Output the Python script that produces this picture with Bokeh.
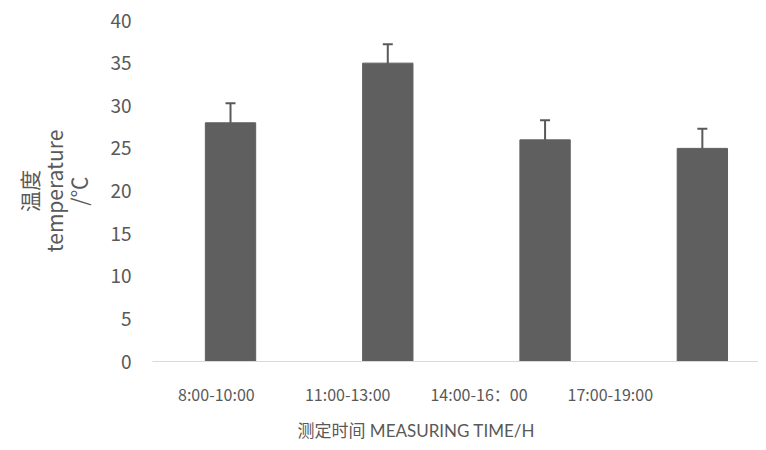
from bokeh.plotting import figure
from bokeh.models import Range1d, FixedTicker, Whisker, ColumnDataSource, TeeHead, Title
from bokeh.embed import file_html
from bokeh.resources import INLINE

# data
periods = ["8:00-10:00", "11:00-13:00", "14:00-16：00", "17:00-19:00"]
temperature = [28, 35, 26, 25]
error = [2.3, 2.2, 2.3, 2.3]
y_ticks = [0, 5, 10, 15, 20, 25, 30, 35, 40]
x_title = "测定时间 MEASURING TIME/H"
y_title = "温度\ntemperature\n/℃"

x = list(range(len(periods)))
src = ColumnDataSource(dict(
    x=x, top=temperature,
    upper=[t + e for t, e in zip(temperature, error)],
    lower=[t - e for t, e in zip(temperature, error)],
))

FONT = "Noto Sans CJK SC"
LFONT = "Lato, Noto Sans CJK SC"
ec = "#595959"

p = figure(width=758, height=450, x_range=Range1d(-0.496, 3.357), y_range=Range1d(0, 40),
           output_backend="svg", toolbar_location=None,
           min_border_left=152, min_border_right=0, min_border_top=20, min_border_bottom=88)
p.outline_line_color = None
p.xgrid.visible = False
p.ygrid.visible = False

p.vbar(x="x", top="top", width=0.32, source=src, fill_color="#5f5f5f", line_color="#5f5f5f")
p.add_layout(Whisker(base="x", upper="upper", lower="lower", source=src, line_color=ec, line_width=2,
                     upper_head=TeeHead(size=10, line_color=ec, line_width=2),
                     lower_head=TeeHead(size=10, line_color=ec, line_width=2)))

# x axis: label positions offset from bars as in the reference
label_pos = [-0.09 + 0.835 * i for i in range(len(periods))]
p.xaxis.ticker = FixedTicker(ticks=label_pos)
p.xaxis.major_label_overrides = {pos: lab for pos, lab in zip(label_pos, periods)}
p.xaxis.axis_line_color = "#d9d9d9"
p.xaxis.axis_line_width = 1
p.xaxis.major_tick_line_color = None
p.xaxis.minor_tick_line_color = None
p.xaxis.major_tick_out = 0
p.xaxis.major_label_standoff = 20
p.xaxis.major_label_text_font = FONT
p.xaxis.major_label_text_font_size = "16px"
p.xaxis.major_label_text_color = ec

p.yaxis.ticker = FixedTicker(ticks=y_ticks)
p.yaxis.axis_line_color = None
p.yaxis.major_tick_line_color = None
p.yaxis.minor_tick_line_color = None
p.yaxis.major_tick_out = 0
p.yaxis.major_label_standoff = 21
p.yaxis.major_label_text_font = FONT
p.yaxis.major_label_text_font_size = "19px"
p.yaxis.major_label_text_color = ec
p.yaxis.axis_label = y_title
p.yaxis.axis_label_standoff = 14
p.yaxis.axis_label_text_font = FONT
p.yaxis.axis_label_text_font_size = "21px"
p.yaxis.axis_label_text_font_style = "normal"
p.yaxis.axis_label_text_line_height = 0.82
p.yaxis.axis_label_text_color = ec

p.add_layout(Title(text=x_title, align="left", offset=145,
                   text_font=LFONT, text_font_size="17px", text_font_style="normal",
                   text_color=ec, standoff=19), "below")

open("out.html", "w").write(file_html(p, INLINE))
